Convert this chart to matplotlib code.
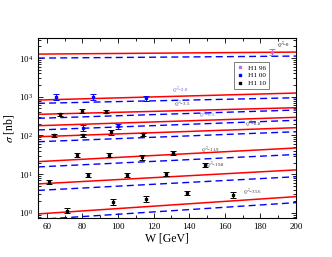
import matplotlib
matplotlib.use("Agg")
import matplotlib.pyplot as plt
from matplotlib.lines import Line2D
import numpy as np

plt.rcParams["font.family"] = "Liberation Serif"
plt.rcParams["mathtext.fontset"] = "stix"

# model curves, value at W=55 and W=200 GeV
w_ends = [55, 200]
q2_names = ["0", "2.0", "3.5", "6.5", "8.8", "11.9", "19.8", "35.6"]
red_lo = [12700, 824, 352, 179, 93, 21.1, 5.6, 0.94]
red_hi = [14300, 1250, 522, 295, 159, 47.6, 12.9, 2.63]
blue_lo = [10000, 678, 278, 139, 69, 15.4, 3.81, 0.676]
blue_hi = [11270, 945, 455, 247, 125, 32.3, 8.6, 1.84]

# label positions (W, sigma)
lab_w = [192.7, 134.8, 135.9, 150.0, 175.8, 151.7, 154.5, 175.8]
lab_s = [21600, 1490, 650, 338, 198, 42.3, 17.3, 3.48]
lab_c = ["black", "#5555ee", "#333333", "#5555ee", "#333333", "#333333", "#333333", "#333333"]

# H1 96
w_96 = [186.5]
s_96 = [14300]
e_96 = [2400]

# H1 00
w_00 = [65.1, 86.1, 115.7, 80.1, 100.1]
s_00 = [1000, 1000, 915, 159, 176]
e_00 = [190, 190, 150, 30, 27]

# H1 10
w_10 = [67.4, 79.9, 93.2,
        64.2, 80.1, 95.8, 114.2,
        77.1, 95.1, 113.3, 130.7,
        61.4, 83.3, 104.8, 126.9, 148.9,
        71.1, 97.3, 115.7, 138.9, 164.7]
s_10 = [352, 429, 411,
        100, 100, 121, 109,
        31.4, 31.4, 27.4, 34.7,
        6.4, 9.6, 9.6, 10.0, 17.3,
        1.15, 1.96, 2.26, 3.3, 2.9]
e_10 = [35, 50, 40,
        10, 10, 15, 10,
        4, 4, 4, 4,
        0.8, 1.1, 1.1, 1.2, 2.0,
        0.15, 0.35, 0.4, 0.45, 0.5]

fig = plt.figure(figsize=(3.32, 2.57), dpi=100)
ax = fig.add_axes([0.1145, 0.152, 0.777, 0.700])

for i in range(len(q2_names)):
    ax.plot(w_ends, [red_lo[i], red_hi[i]], color="red", lw=1.1)
    ax.plot(w_ends, [blue_lo[i], blue_hi[i]], color="blue", lw=1.0,
            dashes=(5, 3))
    ax.text(lab_w[i], lab_s[i], r"$Q^2$=" + q2_names[i], fontsize=3.5,
            color=lab_c[i], ha="center", va="center")

sets = [(w_96, s_96, e_96, "#c070d0", "H1 96"),
        (w_00, s_00, e_00, "blue", "H1 00"),
        (w_10, s_10, e_10, "black", "H1 10")]
handles = []
for w, s, e, c, name in sets:
    ax.errorbar(w, s, yerr=e, fmt="s", ms=1.6, color=c, ecolor=c,
                elinewidth=0.7, capsize=2, capthick=0.7)
    handles.append(Line2D([], [], ls="none", marker="s", ms=1.8, color=c,
                          label=name))

ax.set_yscale("log")
ax.set_xlim(55, 200)
ax.set_ylim(0.74, 3.3e4)
ax.set_xticks([60, 80, 100, 120, 140, 160, 180, 200])
ax.set_xticks(np.arange(60, 200, 10), minor=True)
ax.tick_params(which="both", direction="in", top=True, right=True,
               labelsize=6.5, width=0.6)
ax.tick_params(which="major", length=3.5)
ax.tick_params(which="minor", length=2)
for sp in ax.spines.values():
    sp.set_linewidth(0.8)

ax.set_xlabel("W [GeV]", fontsize=8.5, labelpad=1)
ax.set_ylabel(r"$\sigma$ [nb]", fontsize=8.5, labelpad=2)

leg = ax.legend(handles=handles, loc="upper right",
                bbox_to_anchor=(0.895, 0.867), fontsize=5.2,
                frameon=True, fancybox=False, edgecolor="#444444",
                handlelength=1.0, borderpad=0.35, labelspacing=0.25,
                handletextpad=0.6, borderaxespad=0)
leg.get_frame().set_linewidth(0.6)

fig.savefig("out.png", dpi=100)
